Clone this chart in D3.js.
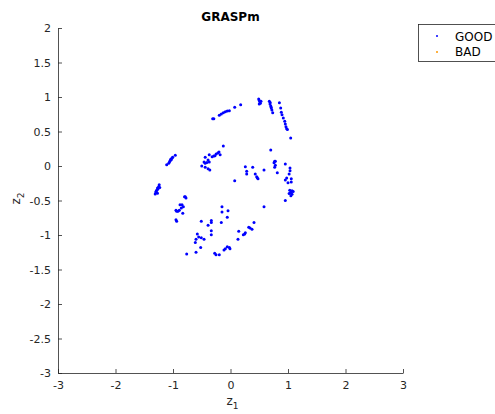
<!DOCTYPE html>
<html>
<head>
<meta charset="utf-8">
<script src="https://cdn.jsdelivr.net/npm/d3@7"></script>
<style>
  body { margin: 0; background: #fff; }
  svg { font-family: "DejaVu Sans", sans-serif; }
</style>
</head>
<body>
<svg width="495" height="414"></svg>
<script>
// Данные (оценены по картинке)
const title = "GRASPm";
const seriesNames = ["GOOD", "BAD"];
const seriesColors = ["#0000ff", "#ff9900"];
const xTicks = [-3, -2, -1, 0, 1, 2, 3];
const yTicks = [-3, -2.5, -2, -1.5, -1, -0.5, 0, 0.5, 1, 1.5, 2];

const goodZ1 = [
  -0.31, -0.29, -0.195, -0.16, -0.125, -0.09, -0.055, -0.02, 0.073, 0.177,
  0.49, 0.5, 0.51, 0.52, 0.5, 0.53,
  0.675, 0.687, 0.7, 0.71, 0.72, 0.734, 0.69, 0.705,
  0.85,
  0.873, 0.884, 0.896, 0.918, 0.943, 0.953, 0.965, 0.977, 0.99,
  1.047,
  -1.11, -1.075, -1.05, -1.04, -1.017, -1.005, -0.96, -1.06, -1.03,
  -0.125,
  -0.37, -0.32, -0.29, -0.25, -0.2, -0.18, -0.27, -0.22,
  -0.44, -0.46, -0.39, -0.37, -0.5, -0.44, -0.39, -0.36, -0.44, -0.41,
  0.073,
  0.258, 0.282, 0.282, 0.386, 0.43, 0.456, 0.478, 0.465,
  0.583, 0.7,
  0.768, 0.757, 0.78, 0.768, 0.814, 0.78,
  0.953,
  1.035, 1.035, 1.02,
  0.953, 0.977, 1.057, 1.057, 1.0,
  1.03, 1.07, 1.05, 1.09, 1.02, 1.07, 1.05, 1.04,
  -0.8, -0.786, -0.774,
  -1.24, -1.25, -1.26, -1.28, -1.3, -1.27, -1.31, -1.23, -1.27, -1.29,
  -0.878, -0.843, -0.82, -0.855, -0.89, -0.913, -0.948, -0.936, -0.83,
  -0.948, -0.936,
  -0.148, -0.148, -0.043, -0.056, -0.16,
  -0.508, -0.334, -0.334, -0.39, -0.334, -0.334,
  -0.577, -0.553, -0.508, -0.6, -0.612, -0.46, -0.518, -0.6, -0.762,
  -0.275, -0.252, -0.195, -0.113, -0.09, -0.056, -0.02, -0.009,
  0.13, 0.143, 0.223, 0.258, 0.247, 0.317, 0.34, 0.374, 0.409, 0.583,
  0.953
];
const goodZ2 = [
  0.686, 0.686, 0.735, 0.754, 0.772, 0.787, 0.797, 0.801, 0.85, 0.888,
  0.97, 0.95, 0.93, 0.91, 0.9, 0.94,
  0.938, 0.899, 0.87, 0.84, 0.81, 0.772, 0.92, 0.855,
  0.918,
  0.84, 0.78, 0.744, 0.696, 0.648, 0.609, 0.57, 0.541, 0.53,
  0.406,
  0.019, 0.039, 0.077, 0.097, 0.116, 0.126, 0.155, 0.06, 0.09,
  0.29,
  0.164, 0.135, 0.145, 0.174, 0.203, 0.164, 0.15, 0.19,
  0.126, 0.058, 0.087, 0.058, 0, -0.019, -0.039, -0.058, 0.039, 0.05,
  -0.213,
  -0.01, -0.077, -0.116, -0.019, -0.116, -0.155, -0.184, -0.17,
  -0.058, 0.232,
  0.068, 0.048, 0.01, -0.019, -0.097, 0.07,
  0.029,
  -0.029, -0.068, -0.116,
  -0.203, -0.174, -0.184, -0.232, -0.242,
  -0.35, -0.36, -0.38, -0.37, -0.40, -0.41, -0.43, -0.39,
  -0.445, -0.445, -0.464,
  -0.27, -0.3, -0.33, -0.35, -0.377, -0.396, -0.406, -0.31, -0.32, -0.36,
  -0.56, -0.56, -0.59, -0.61, -0.64, -0.657, -0.64, -0.657, -0.686,
  -0.78, -0.8,
  -0.59, -0.667, -0.648, -0.744, -0.82,
  -0.8, -0.79, -0.82, -0.86, -0.94, -0.995,
  -0.986, -1.03, -1.04, -1.06, -1.11, -1.06, -1.18, -1.25, -1.275,
  -1.265, -1.285, -1.285, -1.217, -1.2, -1.17, -1.18, -1.2,
  -1.06, -0.946, -0.995, -0.966, -0.986, -0.888, -0.9, -0.918, -0.82, -0.59,
  -0.5
];
const badZ1 = [];
const badZ2 = [];

const svg = d3.select("svg");
const area = { left: 58, right: 403, top: 28, bottom: 373 };
const axisColor = "#262626";

const scX = d3.scaleLinear().domain([-3, 3]).range([area.left, area.right]);
const scY = d3.scaleLinear().domain([-3, 2]).range([area.bottom, area.top]);

// Оси (тики внутрь, как в MATLAB)
const gx = svg.append("g")
  .attr("transform", `translate(0, ${area.bottom})`)
  .call(d3.axisBottom(scX).tickValues(xTicks).tickSize(-4).tickSizeOuter(0).tickPadding(8)
        .tickFormat(d => String(d)));
const gy = svg.append("g")
  .attr("transform", `translate(${area.left}, 0)`)
  .call(d3.axisLeft(scY).tickValues(yTicks).tickSize(-4).tickSizeOuter(0).tickPadding(7)
        .tickFormat(d => String(d)));

[gx, gy].forEach(g => {
  g.select(".domain").attr("stroke", axisColor).attr("stroke-width", 0.8);
  g.selectAll(".tick line").attr("stroke", axisColor).attr("stroke-width", 0.8);
  g.selectAll(".tick text").attr("fill", axisColor)
    .style("font-size", "11px").style("font-family", "DejaVu Sans, sans-serif");
});

// Точки
const good = goodZ1.map((x, i) => ({ x: x, y: goodZ2[i] }));
const bad = badZ1.map((x, i) => ({ x: x, y: badZ2[i] }));

svg.append("g").selectAll("circle.good")
  .data(good).enter().append("circle")
  .attr("class", "good")
  .attr("cx", d => scX(d.x)).attr("cy", d => scY(d.y))
  .attr("r", 1.5).attr("fill", seriesColors[0]);

svg.append("g").selectAll("circle.bad")
  .data(bad).enter().append("circle")
  .attr("class", "bad")
  .attr("cx", d => scX(d.x)).attr("cy", d => scY(d.y))
  .attr("r", 1.5).attr("fill", seriesColors[1]);

// Заголовок
svg.append("text")
  .attr("x", (area.left + area.right) / 2).attr("y", 20.5)
  .attr("text-anchor", "middle")
  .style("font-size", "12px").style("font-weight", "bold")
  .attr("fill", "#000")
  .text(title);

// Подписи осей
const xl = svg.append("text")
  .attr("x", (area.left + area.right) / 2 - 4).attr("y", 405)
  .attr("fill", axisColor).style("font-size", "12px");
xl.append("tspan").text("z");
xl.append("tspan").attr("dy", 4).style("font-size", "9px").text("1");

const yl = svg.append("text")
  .attr("transform", `translate(20, ${(area.top + area.bottom) / 2 + 4}) rotate(-90)`)
  .attr("fill", axisColor).style("font-size", "12px");
yl.append("tspan").text("z");
yl.append("tspan").attr("dy", 4).style("font-size", "9px").text("2");

// Легенда
const lg = svg.append("g").attr("transform", "translate(418.5, 24.5)");
lg.append("rect")
  .attr("x", 0).attr("y", 0).attr("width", 90).attr("height", 37)
  .attr("fill", "#fff").attr("stroke", axisColor).attr("stroke-width", 0.8);
seriesNames.forEach((name, i) => {
  lg.append("circle")
    .attr("cx", 18.5).attr("cy", 11.5 + i * 16)
    .attr("r", 1).attr("fill", seriesColors[i]);
  lg.append("text")
    .attr("x", 36.5).attr("y", 16 + i * 15.5)
    .style("font-size", "12px").attr("fill", "#000")
    .text(name);
});
</script>
</body>
</html>
